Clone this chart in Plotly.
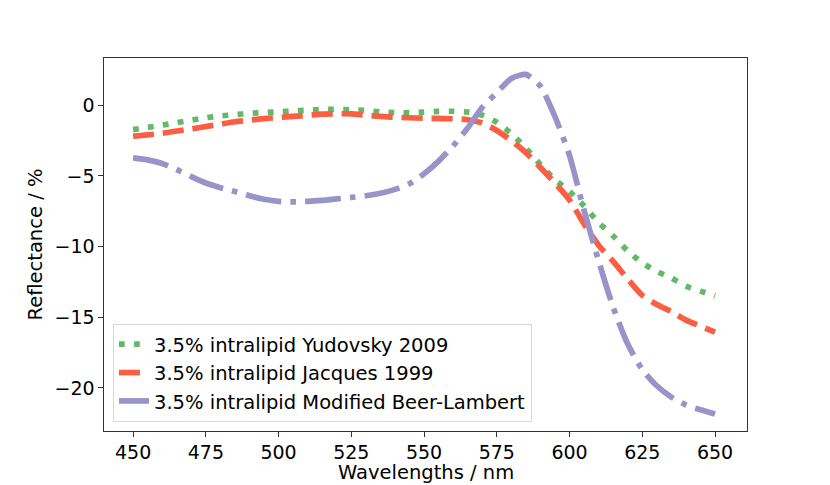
import plotly.graph_objects as go

# wavelengths in nm
wavelengths = list(range(450, 651, 5))

yudovsky_2009 = [
    -1.72, -1.56, -1.40, -1.23, -1.05, -0.88, -0.75, -0.66, -0.57, -0.51,
    -0.46, -0.40, -0.35, -0.30, -0.29, -0.32, -0.36, -0.47, -0.52, -0.52,
    -0.48, -0.43, -0.42, -0.48, -0.70, -1.20, -2.00, -3.03, -4.20, -5.26,
    -6.10, -7.12, -8.30, -9.25, -10.30, -11.15, -11.75, -12.22, -12.80, -13.15,
    -13.50,
]

jacques_1999 = [
    -2.19, -2.09, -1.98, -1.82, -1.67, -1.50, -1.33, -1.16, -1.05, -0.94,
    -0.86, -0.78, -0.70, -0.62, -0.60, -0.60, -0.70, -0.78, -0.84, -0.88,
    -0.91, -0.93, -0.95, -1.02, -1.25, -1.78, -2.50, -3.35, -4.40, -5.50,
    -6.70, -8.40, -9.90, -11.05, -12.30, -13.45, -14.10, -14.60, -15.20, -15.62,
    -16.05,
]

modified_beer_lambert = [
    -3.72, -3.86, -4.12, -4.55, -5.05, -5.50, -5.83, -6.10, -6.40, -6.65,
    -6.80, -6.83, -6.80, -6.73, -6.62, -6.52, -6.40, -6.22, -5.95, -5.55,
    -4.85, -3.95, -2.87, -1.60, -0.15, 0.90, 1.90, 2.19, 1.35, -0.80,
    -3.55, -7.45, -11.00, -14.30, -16.90, -18.70, -19.85, -20.65, -21.20, -21.55,
    -21.85,
]

series = [
    ("3.5% intralipid Yudovsky 2009", yudovsky_2009, "#62b966", "5.7px,9.4px"),
    ("3.5% intralipid Jacques 1999", jacques_1999, "#fc5e44", "21px,9px"),
    ("3.5% intralipid Modified Beer-Lambert", modified_beer_lambert, "#9893c8",
     "36px,9px,5.7px,9px"),
]

fig = go.Figure()
for name, vals, color, dash in series:
    fig.add_trace(go.Scatter(
        x=wavelengths, y=vals, name=name, mode="lines",
        line=dict(color=color, width=5.7, dash=dash, shape="spline", smoothing=0.6),
    ))

fs = 19.5

axis_style = dict(
    showline=True, linecolor="#333", linewidth=1.2, mirror=True,
    ticks="outside", ticklen=4.5, tickcolor="#333", showgrid=False, zeroline=False,
    tickfont=dict(size=19, color="black"), automargin=False,
)

# the page body adds an 8px margin, so the figure is a bit smaller than the window
fig.update_layout(
    width=822, height=477,
    margin=dict(l=96, r=83, t=50, b=54),
    paper_bgcolor="white", plot_bgcolor="white",
    font=dict(family="DejaVu Sans", size=fs, color="black"),
    xaxis=dict(range=[440, 661], tickvals=list(range(450, 651, 25)), **axis_style),
    yaxis=dict(range=[-23.05, 3.35], tickvals=[0, -5, -10, -15, -20],
               ticktext=["0", "\u22125", "\u221210", "\u221215", "\u221220"],
               title=dict(text="Reflectance / %", font=dict(size=fs), standoff=6),
               **axis_style),
    legend=dict(
        x=0.014, y=0.024, xanchor="left", yanchor="bottom",
        bgcolor="rgba(255,255,255,0.8)", bordercolor="#d8d8d8", borderwidth=1,
        font=dict(size=fs), tracegroupgap=0,
    ),
    showlegend=True,
)

fig.add_annotation(
    text="Wavelengths / nm", xref="paper", yref="paper", x=0.5, y=-0.111,
    xanchor="center", yanchor="middle", showarrow=False, font=dict(size=fs),
    borderpad=0,
)

fig.write_html("out.html")
